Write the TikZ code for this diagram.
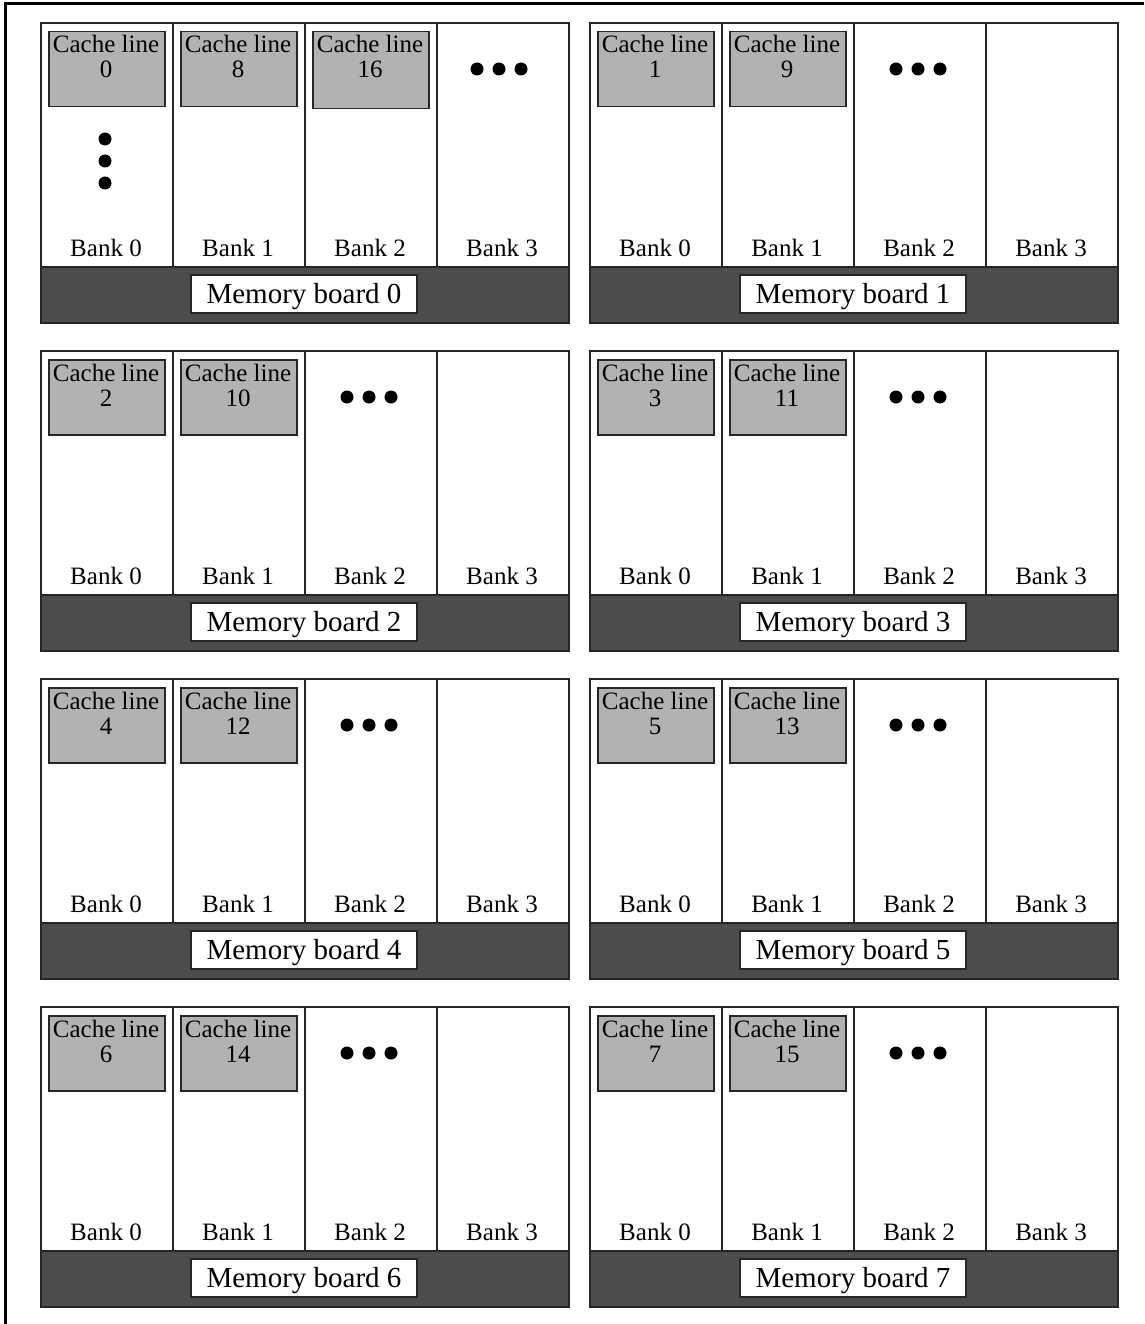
\documentclass[tikz,border=0pt]{standalone}
\usepackage{fontspec}
\setmainfont{Liberation Serif}
\begin{document}
\begin{tikzpicture}[x=1pt,y=-1pt,
  bankbox/.style={draw=black!85, line width=2pt, fill=white, minimum width=132pt, minimum height=244pt, inner sep=0pt, anchor=north west},
  band/.style={draw=black!85, line width=2pt, fill=black!70, minimum width=528pt, minimum height=56pt, inner sep=0pt, anchor=north west},
  cachebox/.style={draw=black!85, line width=1.5pt, fill=black!30, minimum width=116pt, minimum height=75pt, inner sep=0pt, anchor=north west},
  lbl/.style={font=\fontsize{25}{25}\selectfont, inner sep=0pt, anchor=base},
  mblabel/.style={draw=black!85, line width=1.5pt, fill=white, minimum width=226pt, minimum height=38pt, inner sep=0pt, text height=22pt, text depth=4pt, font=\fontsize{29}{29}\selectfont},
  bigdot/.style={circle, fill=black, inner sep=0pt, minimum size=13pt}]
\useasboundingbox (0,0) rectangle (1144,1324);
\draw[line width=3pt] (5,1324) -- (5,4) -- (1144,4);
\foreach \r in {0,...,3} {
 \foreach \c in {0,1} {
  \pgfmathtruncatemacro{\b}{2*\r+\c}
  \pgfmathtruncatemacro{\bb}{\b+8}
  \pgfmathsetmacro{\X}{40+549*\c}
  \pgfmathsetmacro{\Y}{22+328*\r}
  \begin{scope}[shift={(\X,\Y)}]
   \foreach \k in {0,...,3} {
     \node[bankbox] (bk\b-\k) at (132*\k,0) {};
     \node[lbl] (bl\b-\k) at (66+132*\k,234) {Bank \k};
   }
   \node[band] (bn\b) at (0,244) {};
   \node[mblabel] (mb\b) at (264,272) {Memory board \b};
   \node[cachebox] (cb\b-0) at (8,9) {};
   \node[lbl] (ct\b-0) at (66,31) {Cache line};
   \node[lbl] (cn\b-0) at (66,56) {\b};
   \node[cachebox] (cb\b-1) at (140,9) {};
   \node[lbl] (ct\b-1) at (198,31) {Cache line};
   \node[lbl] (cn\b-1) at (198,56) {\bb};
   \ifnum\b=0
     \node[cachebox, minimum height=77pt] (cb0-2) at (272,9) {};
     \node[lbl] (ct0-2) at (330,31) {Cache line};
     \node[lbl] (cn0-2) at (330,56) {16};
     \node[bigdot] (hd0-a) at (437,47) {};
     \node[bigdot] (hd0-b) at (459,47) {};
     \node[bigdot] (hd0-c) at (481,47) {};
     \node[bigdot] (vd0-a) at (65,117) {};
     \node[bigdot] (vd0-b) at (65,139) {};
     \node[bigdot] (vd0-c) at (65,161) {};
   \else
     \node[bigdot] (hd\b-a) at (307,47) {};
     \node[bigdot] (hd\b-b) at (329,47) {};
     \node[bigdot] (hd\b-c) at (351,47) {};
   \fi
  \end{scope}
 }
}
\end{tikzpicture}
\end{document}
